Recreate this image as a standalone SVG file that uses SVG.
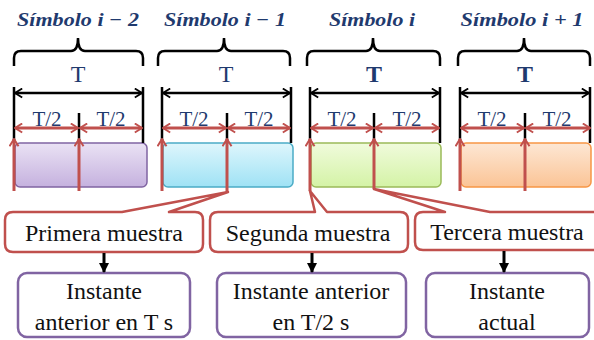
<svg xmlns="http://www.w3.org/2000/svg" width="594" height="340" viewBox="0 0 594 340">
<style>
.title{font-family:"Liberation Serif",serif;font-style:italic;font-weight:bold;font-size:19px;fill:#1F3A6E;text-anchor:middle}
.tt{font-family:"Liberation Serif",serif;font-size:24px;fill:#1F3A6E;text-anchor:middle}
.th{font-family:"Liberation Serif",serif;font-size:21px;fill:#1F3A6E;text-anchor:middle}
.lbl{font-family:"Liberation Serif",serif;font-size:24px;fill:#111;text-anchor:middle}
.brace{fill:none;stroke:#000;stroke-width:2.5}
.kline{stroke:#000;stroke-width:2.5;fill:none}
.kdim{stroke:#000;stroke-width:2.5;fill:none;marker-start:url(#chevK);marker-end:url(#chevK)}
.rdim{stroke:#C0504D;stroke-width:3;fill:none;marker-start:url(#chevR);marker-end:url(#chevR)}
.rup{stroke:#C0504D;stroke-width:3;fill:none;marker-end:url(#chevR)}
.callout{fill:#fff;stroke:#C0504D;stroke-width:2.5;stroke-linejoin:round}
.inst{fill:#fff;stroke:#8064A2;stroke-width:2.5}
.down{stroke:#000;stroke-width:3;fill:none;marker-end:url(#headK)}
</style>
<defs>
<marker id="chevK" viewBox="0 0 10 12" refX="9" refY="6" markerWidth="9" markerHeight="11" markerUnits="userSpaceOnUse" orient="auto-start-reverse"><path d="M1,1 L9,6 L1,11" fill="none" stroke="#000" stroke-width="2"/></marker>
<marker id="chevR" viewBox="0 0 10 12" refX="9" refY="6" markerWidth="9" markerHeight="11" markerUnits="userSpaceOnUse" orient="auto-start-reverse"><path d="M1,1 L9,6 L1,11" fill="none" stroke="#C0504D" stroke-width="2.2"/></marker>
<marker id="headK" viewBox="0 0 10 10" refX="9" refY="5" markerWidth="10" markerHeight="11" markerUnits="userSpaceOnUse" orient="auto"><path d="M0,0 L10,5 L0,10 z" fill="#000"/></marker>
<linearGradient id="gP" x1="0" y1="0" x2="0" y2="1"><stop offset="0" stop-color="#EAE2F4"/><stop offset="1" stop-color="#C5B1DE"/></linearGradient>
<linearGradient id="gC" x1="0" y1="0" x2="0" y2="1"><stop offset="0" stop-color="#DEF6FC"/><stop offset="1" stop-color="#9FE2F5"/></linearGradient>
<linearGradient id="gG" x1="0" y1="0" x2="0" y2="1"><stop offset="0" stop-color="#F0FBDC"/><stop offset="1" stop-color="#D4F3A6"/></linearGradient>
<linearGradient id="gO" x1="0" y1="0" x2="0" y2="1"><stop offset="0" stop-color="#FDE7D4"/><stop offset="1" stop-color="#FBC496"/></linearGradient>
</defs>

<g id="symbol1">
<text class="title" x="78" y="26" textLength="122" lengthAdjust="spacingAndGlyphs">Símbolo i − 2</text>
<path class="brace" d="M14,66 L14,58 Q14,51 21,51 L71,51 Q78,51 78,38 Q78,51 85,51 L136,51 Q143,51 143,58 L143,66"/>
<text class="tt" x="78" y="82">T</text>
<text class="th" x="47" y="126">T/2</text>
<text class="th" x="111" y="126">T/2</text>
<rect x="15" y="143" width="132" height="44" rx="5" fill="url(#gP)" stroke="#8064A2" stroke-width="1.5"/>
</g>
<g id="symbol2">
<text class="title" x="225" y="26" textLength="122" lengthAdjust="spacingAndGlyphs">Símbolo i − 1</text>
<path class="brace" d="M158,66 L158,58 Q158,51 165,51 L217,51 Q224,51 224,38 Q224,51 231,51 L283,51 Q290,51 290,58 L290,66"/>
<text class="tt" x="226" y="82">T</text>
<text class="th" x="194" y="126">T/2</text>
<text class="th" x="259" y="126">T/2</text>
<rect x="163" y="143" width="130" height="44" rx="5" fill="url(#gC)" stroke="#4BACC6" stroke-width="1.5"/>
</g>
<g id="symbol3">
<text class="title" x="372" y="26" textLength="86" lengthAdjust="spacingAndGlyphs">Símbolo i</text>
<path class="brace" d="M307,66 L307,58 Q307,51 314,51 L366,51 Q373,51 373,38 Q373,51 380,51 L433,51 Q440,51 440,58 L440,66"/>
<text class="tt" x="374" y="82" font-weight="bold">T</text>
<text class="th" x="342" y="126">T/2</text>
<text class="th" x="407" y="126">T/2</text>
<rect x="311" y="143" width="130" height="44" rx="5" fill="url(#gG)" stroke="#9BBB59" stroke-width="1.5"/>
</g>
<g id="symbol4">
<text class="title" x="522" y="26" textLength="123" lengthAdjust="spacingAndGlyphs">Símbolo i + 1</text>
<path class="brace" d="M458,66 L458,58 Q458,51 465,51 L517,51 Q524,51 524,38 Q524,51 531,51 L583,51 Q590,51 590,58 L590,66"/>
<text class="tt" x="525" y="82" font-weight="bold">T</text>
<text class="th" x="492" y="126">T/2</text>
<text class="th" x="557" y="126">T/2</text>
<rect x="461" y="143" width="130" height="44" rx="5" fill="url(#gO)" stroke="#F79646" stroke-width="1.5"/>
</g>

<g id="callout1">
<path class="callout" d="M13,212 L122,212 L228,192 L169,212 L195,212 Q203,212 203,220 L203,244 Q203,252 195,252 L13,252 Q5,252 5,244 L5,220 Q5,212 13,212 Z"/>
<text class="lbl" x="104" y="241">Primera muestra</text>
</g>
<g id="callout2">
<path class="callout" d="M218,212 L315,212 L310,191 L327,212 L400,212 Q408,212 408,220 L408,244 Q408,252 400,252 L218,252 Q210,252 210,244 L210,220 Q210,212 218,212 Z"/>
<text class="lbl" x="308" y="241">Segunda muestra</text>
</g>
<g id="callout3">
<path class="callout" d="M423,212 L445,212 L374,189 L490,212 L605,212 L605,250 L423,250 Q415,250 415,242 L415,220 Q415,212 423,212 Z"/>
<text class="lbl" x="507" y="240">Tercera muestra</text>
</g>

<g id="inst1">
<rect class="inst" x="18" y="273" width="172" height="64" rx="9"/>
<text class="lbl" x="104" y="299">Instante</text>
<text class="lbl" x="104" y="330">anterior en T s</text>
</g>
<g id="inst2">
<rect class="inst" x="217" y="273" width="189" height="64" rx="9"/>
<text class="lbl" x="311" y="299">Instante anterior</text>
<text class="lbl" x="311" y="330">en T/2 s</text>
</g>
<g id="inst3">
<rect class="inst" x="426" y="273" width="163" height="64" rx="9"/>
<text class="lbl" x="507" y="299">Instante</text>
<text class="lbl" x="507" y="330">actual</text>
</g>

<g id="connectors">
<!-- black extension lines -->
<path class="kline" d="M14,87 V143 M143,87 V143 M79,113 V143"/>
<path class="kline" d="M162,87 V143 M291,87 V143 M227,113 V143"/>
<path class="kline" d="M310,87 V143 M440,87 V143 M374,113 V143"/>
<path class="kline" d="M460,87 V143 M590,87 V143 M525,113 V143"/>
<!-- T dimensions -->
<line class="kdim" x1="15" y1="93" x2="142" y2="93"/>
<line class="kdim" x1="163" y1="93" x2="290" y2="93"/>
<line class="kdim" x1="311" y1="93" x2="439" y2="93"/>
<line class="kdim" x1="461" y1="93" x2="589" y2="93"/>
<!-- T/2 dimensions -->
<line class="rdim" x1="15" y1="128" x2="78" y2="128"/>
<line class="rdim" x1="80" y1="128" x2="142" y2="128"/>
<line class="rdim" x1="163" y1="128" x2="226" y2="128"/>
<line class="rdim" x1="228" y1="128" x2="290" y2="128"/>
<line class="rdim" x1="311" y1="128" x2="373" y2="128"/>
<line class="rdim" x1="375" y1="128" x2="439" y2="128"/>
<line class="rdim" x1="461" y1="128" x2="524" y2="128"/>
<line class="rdim" x1="526" y1="128" x2="590" y2="128"/>
<!-- sample arrows -->
<line class="rup" x1="14" y1="191" x2="14" y2="139"/>
<line class="rup" x1="79" y1="191" x2="79" y2="139"/>
<line class="rup" x1="162" y1="191" x2="162" y2="139"/>
<line class="rup" x1="227" y1="192" x2="227" y2="139"/>
<line class="rup" x1="310" y1="191" x2="310" y2="139"/>
<line class="rup" x1="374" y1="189" x2="374" y2="139"/>
<line class="rup" x1="460" y1="191" x2="460" y2="139"/>
<line class="rup" x1="525" y1="191" x2="525" y2="139" stroke-width="1.8"/>
<!-- down arrows -->
<line class="down" x1="104" y1="253" x2="104" y2="272"/>
<line class="down" x1="312" y1="253" x2="312" y2="272"/>
<line class="down" x1="504" y1="251" x2="504" y2="272"/>
</g>
</svg>
